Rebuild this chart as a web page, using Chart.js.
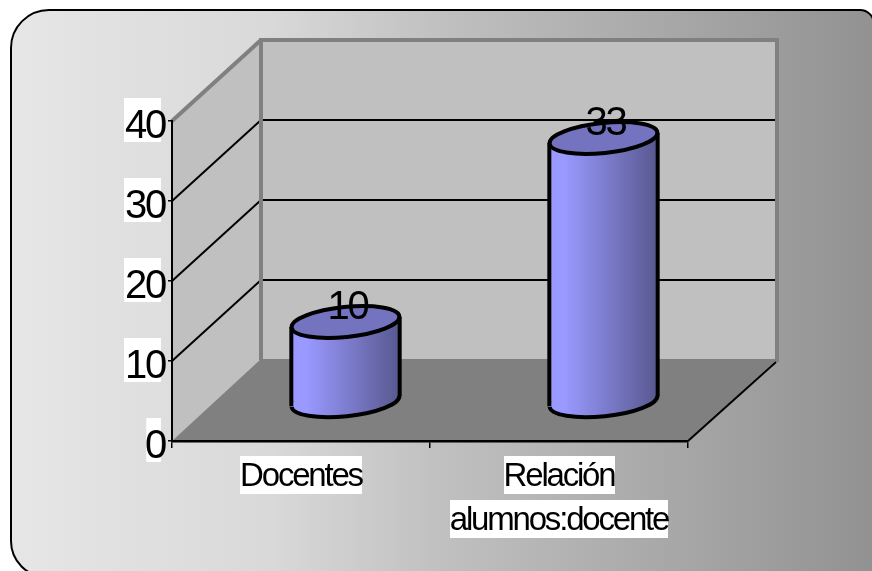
<!DOCTYPE html>
<html>
<head>
<meta charset="utf-8">
<script src="https://cdn.jsdelivr.net/npm/chart.js@4"></script>
<style>
    html, body { margin: 0; padding: 0; background: #fff; }
    #wrap { width: 872px; height: 571px; position: relative; }
</style>
</head>
<body>
<div id="wrap"><canvas id="chart"></canvas></div>
<script>
const categories = ['Docentes', ['Relación', 'alumnos:docente']];
const values = [10, 33];
const yTicks = [0, 10, 20, 30, 40];

// how far the back wall is pushed from the front plane of the axes
const depthX = 89;
const depthY = -81;
// cylinders stand in the middle of the floor
const barShiftX = 44.5;
const barShiftY = -39;
const barShare = 0.42;
const tilt = -6 * Math.PI / 180;
const capRadius = 15;

const fontFamily = '"Liberation Sans", Arial, sans-serif';
const textSpacing = '-2.2px';

const topColor = '#7373bf';
const wallColor = '#c0c0c0';
const floorColor = '#808080';

function polygon(ctx, points, fill) {
    ctx.beginPath();
    points.forEach((p, i) => i ? ctx.lineTo(p[0], p[1]) : ctx.moveTo(p[0], p[1]));
    ctx.closePath();
    ctx.fillStyle = fill;
    ctx.fill();
}

function line(ctx, x1, y1, x2, y2, color, width) {
    ctx.beginPath();
    ctx.moveTo(x1, y1);
    ctx.lineTo(x2, y2);
    ctx.strokeStyle = color;
    ctx.lineWidth = width;
    ctx.stroke();
}

function barGradient(ctx, left, right) {
    const g = ctx.createLinearGradient(left, 0, right, 0);
    g.addColorStop(0, '#9999ff');
    g.addColorStop(0.14, '#9999ff');
    g.addColorStop(1, '#58588f');
    return g;
}

// panel behind everything, walls, floor and the white label boxes
const backdropPlugin = {
    id: 'backdrop3d',
    beforeDraw(chart) {
        const {ctx, scales: {x, y}, chartArea: a} = chart;
        ctx.save();
        const bg = ctx.createLinearGradient(11, 0, 872, 0);
        bg.addColorStop(0, '#e6e6e6');
        bg.addColorStop(0.3, '#d9d9d9');
        bg.addColorStop(0.5, '#c0c0c0');
        bg.addColorStop(1, '#929292');
        ctx.beginPath();
        ctx.roundRect(11, 10, 863, 567, [38, 14, 0, 36]);
        ctx.fillStyle = bg;
        ctx.fill();
        ctx.strokeStyle = '#000';
        ctx.lineWidth = 2;
        ctx.stroke();

        const bx = a.left + depthX;
        const rx = a.right + depthX;
        const ty = a.top + depthY;
        const by = a.bottom + depthY;
        polygon(ctx, [[a.left, a.top], [bx, ty], [bx, by], [a.left, a.bottom]], wallColor);
        polygon(ctx, [[bx, ty], [rx, ty], [rx, by], [bx, by]], wallColor);
        polygon(ctx, [[a.left, a.bottom], [a.right, a.bottom], [rx, by - 1], [bx, by - 1]], floorColor);

        yTicks.slice(1, -1).forEach(v => {
            const py = y.getPixelForValue(v);
            line(ctx, bx, py + depthY, rx, py + depthY, '#000', 2);
            line(ctx, a.left, py, bx, py + depthY, '#000', 2);
        });
        line(ctx, a.left, a.top, bx, ty, '#808080', 4);
        line(ctx, bx - 2, ty, rx + 2, ty, '#808080', 4);
        line(ctx, bx, ty, bx, by, '#808080', 4);
        line(ctx, rx, ty, rx, by + 2, '#808080', 4);
        line(ctx, a.right, a.bottom, rx - 1, by + 2, '#000', 2);

        // one white box per text line, the scale only knows a box per tick
        ctx.font = '33px ' + fontFamily;
        ctx.letterSpacing = textSpacing;
        ctx.fillStyle = '#fff';
        categories.forEach((c, i) => {
            const cx = x.getPixelForTick(i);
            [].concat(c).forEach((text, n) => {
                const w = ctx.measureText(text).width;
                ctx.fillRect(Math.round(cx - w / 2), 456 + n * 44, Math.round(w), 38);
            });
        });
        ctx.restore();
        chart.ctx.letterSpacing = textSpacing;
    },
    beforeDatasetDraw(chart, args) {
        const {ctx} = chart;
        const bars = chart.getDatasetMeta(args.index).data;
        ctx.save();
        ctx.translate(barShiftX, barShiftY);
        bars.forEach(bar => {
            const left = bar.x - bar.width / 2;
            const right = bar.x + bar.width / 2;
            ctx.beginPath();
            ctx.ellipse(bar.x, bar.base, bar.width / 2, capRadius, tilt, 0, Math.PI * 2);
            ctx.fillStyle = barGradient(ctx, left, right);
            ctx.fill();
        });
        // keep the square bar inside the tilted cylinder body
        ctx.beginPath();
        bars.forEach(bar => {
            const left = bar.x - bar.width / 2;
            const right = bar.x + bar.width / 2;
            ctx.moveTo(left, bar.y + 5);
            ctx.lineTo(right, bar.y - 5);
            ctx.lineTo(right, bar.base - 5);
            ctx.lineTo(left, bar.base + 5);
            ctx.closePath();
        });
        ctx.clip();
    },
    afterDatasetDraw(chart, args) {
        const {ctx} = chart;
        ctx.restore();
        ctx.save();
        ctx.translate(barShiftX, barShiftY);
        chart.getDatasetMeta(args.index).data.forEach(bar => {
            const left = bar.x - bar.width / 2;
            const right = bar.x + bar.width / 2;
            ctx.strokeStyle = '#000';
            ctx.lineWidth = 4;
            ctx.beginPath();
            ctx.ellipse(bar.x, bar.base, bar.width / 2, capRadius, tilt, 0, Math.PI);
            ctx.stroke();
            line(ctx, left, bar.y + 5, left, bar.base + 5, '#000', 4);
            line(ctx, right, bar.y - 5, right, bar.base - 5, '#000', 4);
            ctx.beginPath();
            ctx.ellipse(bar.x, bar.y, bar.width / 2, capRadius, tilt, 0, Math.PI * 2);
            ctx.fillStyle = topColor;
            ctx.fill();
            ctx.stroke();
        });
        ctx.restore();
    },
    afterDatasetsDraw(chart) {
        const {ctx} = chart;
        ctx.save();
        ctx.font = '40px ' + fontFamily;
        ctx.letterSpacing = textSpacing;
        ctx.textAlign = 'center';
        ctx.textBaseline = 'middle';
        ctx.fillStyle = '#000';
        chart.getDatasetMeta(0).data.forEach((bar, i) => {
            ctx.fillText(String(values[i]), bar.x + barShiftX + 2, bar.y + barShiftY - 14);
        });
        ctx.restore();
    },
};

new Chart(document.getElementById('chart'), {
    type: 'bar',
    data: {
        labels: categories,
        datasets: [
            {
                data: values,
                clip: false,
                borderWidth: 0,
                categoryPercentage: 1,
                barPercentage: barShare,
                backgroundColor: (c) => {
                    const scale = c.chart.scales.x;
                    // also called for the dataset as a whole, with no index yet
                    const cx = scale ? scale.getPixelForValue(c.dataIndex) : NaN;
                    if (!Number.isFinite(cx)) {
                        return '#9999ff';
                    }
                    const half = scale.width / categories.length * barShare / 2;
                    return barGradient(c.chart.ctx, cx - half, cx + half);
                },
            },
        ],
    },
    options: {
        responsive: true,
        maintainAspectRatio: false,
        animation: false,
        layout: {
            padding: {top: 121, left: 0, right: 184, bottom: 0},
        },
        scales: {
            x: {
                offset: true,
                afterFit: (scale) => { scale.height = 130; },
                grid: {
                    offset: true,
                    drawOnChartArea: false,
                    color: '#000',
                    lineWidth: 1.5,
                    tickLength: 7,
                },
                border: {color: '#000', width: 2.5},
                ticks: {
                    color: '#000',
                    autoSkip: false,
                    maxRotation: 0,
                    minRotation: 0,
                    padding: 7,
                    font: {family: fontFamily, size: 33, lineHeight: 44 / 33},
                },
            },
            y: {
                min: 0,
                max: 40,
                afterFit: (scale) => { scale.width = 172; },
                afterBuildTicks: (scale) => { scale.ticks = yTicks.map(v => ({value: v})); },
                grid: {
                    drawOnChartArea: false,
                    color: '#000',
                    lineWidth: 1.5,
                    tickLength: 4,
                },
                border: {color: '#000', width: 2},
                ticks: {
                    color: '#000',
                    padding: 3,
                    labelOffset: 6,
                    showLabelBackdrop: true,
                    backdropColor: '#fff',
                    // not scriptable in chart.js, so one padding for all the ticks
                    backdropPadding: {top: 7, bottom: -7, left: -3.5, right: -4},
                    font: {family: fontFamily, size: 40, lineHeight: 44 / 40},
                },
            },
        },
        plugins: {
            legend: {display: false},
            tooltip: {enabled: false},
        },
    },
    plugins: [backdropPlugin],
});
</script>
</body>
</html>
